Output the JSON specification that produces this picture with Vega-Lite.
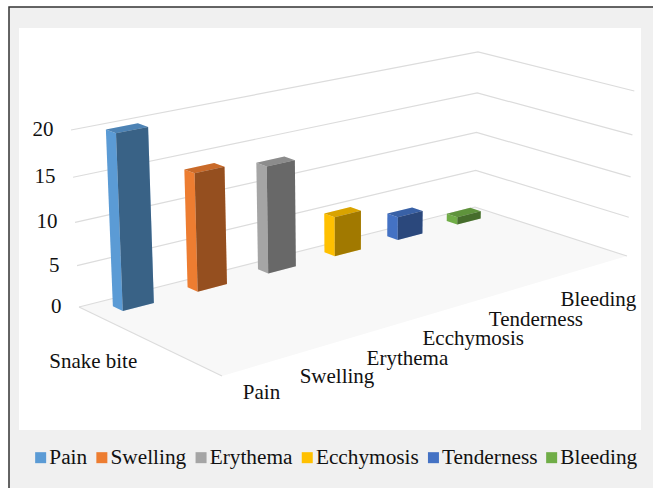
{
"$schema":"https://vega.github.io/schema/vega-lite/v6.json",
"width":650,"height":487,
"autosize":{"type":"none"},
"padding":{"left":9,"top":7,"right":0,"bottom":0},
"background":"white",
"view":{"fill":"#f0f0f0","stroke":"#333333","strokeWidth":1.5},
"config":{"font":"Liberation Serif","text":{"font":"Liberation Serif","fontSize":21,"fill":"#111111"}},
"data":{"values":[
{"symptom":"Pain","value":20},
{"symptom":"Swelling","value":14},
{"symptom":"Erythema","value":13},
{"symptom":"Ecchymosis","value":5},
{"symptom":"Tenderness","value":3},
{"symptom":"Bleeding","value":1}
]},
"transform":[
{"window":[{"op":"row_number","as":"n"}]},
{"calculate":"datum.n-1","as":"i"},
{"calculate":"(datum.i+0.5)/6-0.034","as":"b0"},
{"calculate":"(datum.i+0.5)/6+0.034","as":"b1"},
{"calculate":"datum.value/20","as":"H"},
{"calculate":"['left','right','top']","as":"face"},
{"flatten":["face"]},
{"calculate":"[0,1,2,3]","as":"k"},
{"flatten":["k"]},
{"calculate":"datum.face==='right'?0.157:[0.083,0.157,0.157,0.083][datum.k]","as":"a"},
{"calculate":"datum.face==='left'?datum.b0:datum.face==='right'?[datum.b0,datum.b1,datum.b1,datum.b0][datum.k]:[datum.b0,datum.b0,datum.b1,datum.b1][datum.k]","as":"b"},
{"calculate":"datum.face==='top'?datum.H:[0,0,datum.H,datum.H][datum.k]","as":"h"},
{"calculate":"(79+122.71*datum.a+483.56*datum.b-10.01*datum.h)/(1-0.0914*datum.a+0.18433*datum.b-0.02835*datum.h)","as":"px"},
{"calculate":"(307+34.63*datum.a-61.84*datum.b-188.05*datum.h)/(1-0.0914*datum.a+0.18433*datum.b-0.085*datum.h)","as":"py"},
{"calculate":"datum.symptom+'-'+datum.face","as":"poly"}
],
"encoding":{
"x":{"field":"px","type":"quantitative","scale":{"domain":[9,659],"nice":false,"zero":false},"axis":null},
"y":{"field":"py","type":"quantitative","scale":{"domain":[494,7],"nice":false,"zero":false},"axis":null}
},
"layer":[
{"data":{"values":[{"panel":"plot"}]},
 "mark":{"type":"rect","fill":"white"},
 "encoding":{"x":{"value":10},"x2":{"value":632},"y":{"value":21},"y2":{"value":423}}},
{"data":{"values":[{"corner":0,"a":0,"b":0},{"corner":1,"a":1,"b":0},{"corner":2,"a":1,"b":1},{"corner":3,"a":0,"b":1}]},
 "transform":[
 {"calculate":"(79+122.71*datum.a+483.56*datum.b)/(1-0.0914*datum.a+0.18433*datum.b)","as":"px"},
 {"calculate":"(307+34.63*datum.a-61.84*datum.b)/(1-0.0914*datum.a+0.18433*datum.b)","as":"py"}],
 "mark":{"type":"line","interpolate":"linear-closed","fill":"#f8f8f8","stroke":null},
 "encoding":{"order":{"field":"corner"}}},
{"data":{"values":[{"corner":0,"a":0,"b":0},{"corner":1,"a":1,"b":0}]},
 "transform":[
 {"calculate":"(79+122.71*datum.a+483.56*datum.b)/(1-0.0914*datum.a+0.18433*datum.b)","as":"px"},
 {"calculate":"(307+34.63*datum.a-61.84*datum.b)/(1-0.0914*datum.a+0.18433*datum.b)","as":"py"}],
 "mark":{"type":"line","stroke":"#dcdcdc","strokeWidth":1.2},
 "encoding":{"order":{"field":"corner"}}},
{"data":{"values":[{"tick":0},{"tick":5},{"tick":10},{"tick":15},{"tick":20}]},
 "transform":[
 {"calculate":"[0,1,2]","as":"k"},{"flatten":["k"]},
 {"calculate":"[0,0,1][datum.k]","as":"a"},{"calculate":"[0,1,1][datum.k]","as":"b"},{"calculate":"datum.tick/20","as":"h"},
 {"calculate":"(79+122.71*datum.a+483.56*datum.b-10.01*datum.h)/(1-0.0914*datum.a+0.18433*datum.b-0.02835*datum.h)","as":"px"},
 {"calculate":"(307+34.63*datum.a-61.84*datum.b-188.05*datum.h)/(1-0.0914*datum.a+0.18433*datum.b-0.085*datum.h)","as":"py"}],
 "mark":{"type":"line","stroke":"#dcdcdc","strokeWidth":1.2},
 "encoding":{"detail":{"field":"tick"},"order":{"field":"k"}}},
{"data":{"values":[{"tick":0},{"tick":5},{"tick":10},{"tick":15},{"tick":20}]},
 "transform":[
 {"calculate":"datum.tick/20","as":"h"},
 {"calculate":"(79-10.01*datum.h)/(1-0.02835*datum.h)","as":"px"},
 {"calculate":"(307-188.05*datum.h)/(1-0.085*datum.h)","as":"py"}],
 "mark":{"type":"text","align":"right","baseline":"middle","dx":-17.5},
 "encoding":{"text":{"field":"tick","type":"quantitative"}}},
{"mark":{"type":"line","interpolate":"linear-closed","stroke":null},
 "encoding":{"detail":{"field":"poly"},"order":{"field":"k"},
 "fill":{"field":"symptom","type":"nominal",
  "scale":{"domain":["Pain","Swelling","Erythema","Ecchymosis","Tenderness","Bleeding"],"range":["#5B9BD5","#ED7D31","#A5A5A5","#FFC000","#4472C4","#70AD47"]},
  "legend":{"title":null,"orient":"none","legendX":21,"legendY":440,"direction":"horizontal","columns":6,"columnPadding":3.2,"padding":0,"symbolType":"square","symbolSize":121,"symbolStrokeWidth":0,"labelFont":"Liberation Serif","labelFontSize":21.3,"labelColor":"#111111","labelOffset":-2,"labelLimit":200}}}},
{"transform":[{"filter":"datum.face==='right'"}],
 "mark":{"type":"line","interpolate":"linear-closed","fill":"black","fillOpacity":0.37,"stroke":null},
 "encoding":{"detail":{"field":"poly"},"order":{"field":"k"}}},
{"transform":[{"filter":"datum.face==='top'"}],
 "mark":{"type":"line","interpolate":"linear-closed","fill":"black","fillOpacity":0.15,"stroke":null},
 "encoding":{"detail":{"field":"poly"},"order":{"field":"k"}}},
{"transform":[{"filter":"datum.face==='left' && datum.k===0"},
 {"calculate":"1.33-0.1*pow(0.4,datum.i)","as":"la"},
 {"calculate":"0.005+0.151*datum.i-0.018*sqrt(max(0,sin(PI*datum.i/5)))","as":"lb"},
 {"calculate":"(79+122.71*datum.la+483.56*datum.lb)/(1-0.0914*datum.la+0.18433*datum.lb)","as":"lx"},
 {"calculate":"(307+34.63*datum.la-61.84*datum.lb)/(1-0.0914*datum.la+0.18433*datum.lb)","as":"ly"}],
 "mark":{"type":"text","align":"center","baseline":"middle"},
 "encoding":{"x":{"field":"lx","type":"quantitative","scale":{"domain":[9,659],"nice":false,"zero":false},"axis":null},"y":{"field":"ly","type":"quantitative","scale":{"domain":[494,7],"nice":false,"zero":false},"axis":null},"text":{"field":"symptom","type":"nominal"}}},
{"data":{"values":[{"category":"Snake bite","a":0.567,"b":-0.129}]},
 "transform":[
 {"calculate":"(79+122.71*datum.a+483.56*datum.b)/(1-0.0914*datum.a+0.18433*datum.b)","as":"px"},
 {"calculate":"(307+34.63*datum.a-61.84*datum.b)/(1-0.0914*datum.a+0.18433*datum.b)","as":"py"}],
 "mark":{"type":"text","align":"center","baseline":"middle"},
 "encoding":{"text":{"field":"category","type":"nominal"}}}
]
}
